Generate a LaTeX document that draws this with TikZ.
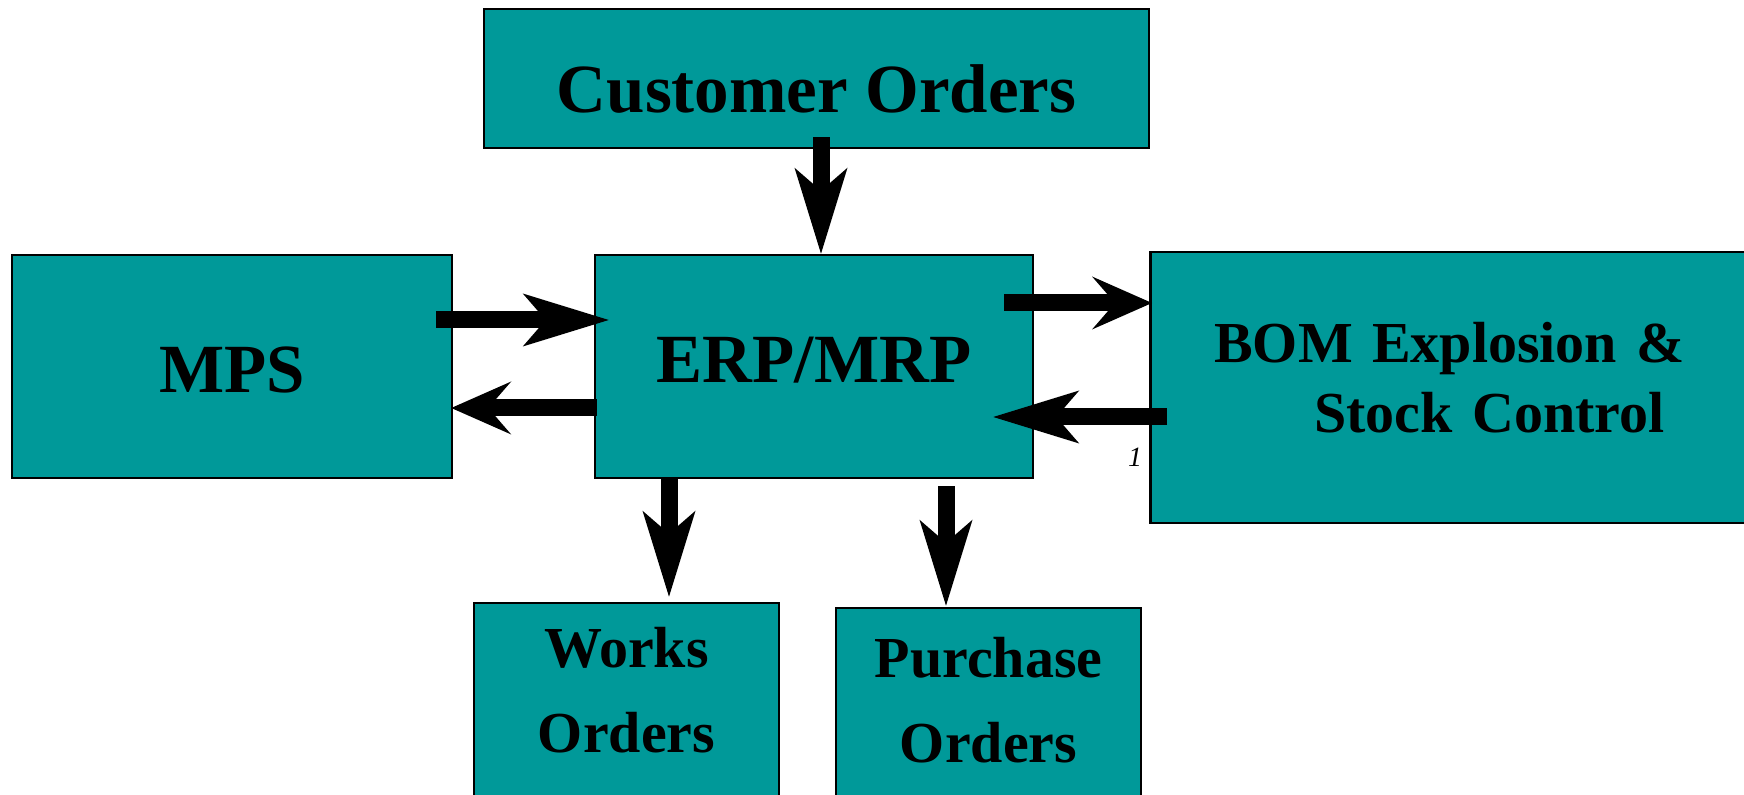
\documentclass[tikz,border=0pt]{standalone}
\usepackage{fontspec}
\setmainfont{Liberation Serif}
\usepackage{xcolor}
\usepackage{tikz}
\usetikzlibrary{arrows.meta}
\definecolor{boxteal}{RGB}{0,153,153}

\begin{document}
\begin{tikzpicture}[x=0.5pt,y=-0.5pt,
		block/.style={draw=black,line width=1.25pt,fill=boxteal,inner xsep=0pt,inner ysep=0pt},
		bigtext/.style={font=\fontsize{34.5}{40}\selectfont\bfseries},
		smalltext/.style={font=\fontsize{29}{42.5}\selectfont\bfseries},
		bigarrow/.style={line width=8.5pt,-{Stealth[length=43pt,width=26.5pt,inset=11.5pt,line width=0pt]}},
		shortarrow/.style={line width=8.5pt,-{Stealth[length=30pt,width=26.5pt,inset=11.5pt,line width=0pt]}}]
	\path[use as bounding box] (0,0) rectangle (1744,795);
	\clip (0,0) rectangle (1744,795);
	\node[block,bigtext,minimum width=332.5pt,text height=52pt,text depth=17.5pt] (cust) at (816.5,78.5) {Customer Orders};
	\node[block,bigtext,minimum width=220pt,text height=69pt,text depth=42.5pt] (mps) at (232,366.5) {MPS};
	\node[block,bigtext,minimum width=219pt,text height=64pt,text depth=47.5pt] (erp) at (814,366.5) {ERP/MRP};
	\node[block,anchor=west,text width=280pt,inner xsep=32pt,align=left,text height=55.5pt,text depth=80pt,
		font=\fontsize{29}{35}\selectfont\bfseries] (bom) at (1149,387.5) {BOM Explosion \&\\\hspace*{50pt}Stock Control};
	\node[block,smalltext,text width=152.5pt,align=center,text height=32.5pt,text depth=76pt] (works) at (626.5,711.5) {Works\\Orders};
	\node[block,smalltext,text width=152.5pt,align=center,text height=34.5pt,text depth=71.5pt] (purch) at (988.5,714) {Purchase\\Orders};
	\node[font=\fontsize{14}{16}\selectfont\itshape,anchor=base,inner sep=0pt] (pgno) at (1135,467) {1};

	\draw[bigarrow] ([shift={(4.5,-12)}]cust.south) -- ([shift={(7,0)}]erp.north);
	\draw[bigarrow] ([shift={(-17,-46.5)}]mps.east) -- ([shift={(15,-46.5)}]erp.west);
	\draw[shortarrow] ([shift={(3,41.5)}]erp.west) -- ([shift={(-2,41.5)}]mps.east);
	\draw[shortarrow] ([shift={(-30,-63.5)}]erp.east) -- ([shift={(3,-84.5)}]bom.west);
	\draw[bigarrow] ([shift={(18,29.5)}]bom.west) -- ([shift={(-41,50.5)}]erp.east);
	\draw[bigarrow] ([shift={(-145,-2)}]erp.south) -- ([shift={(42.5,-5)}]works.north);
	\draw[bigarrow] ([shift={(132,7)}]erp.south) -- ([shift={(-42.5,-1)}]purch.north);
\end{tikzpicture}
\end{document}
